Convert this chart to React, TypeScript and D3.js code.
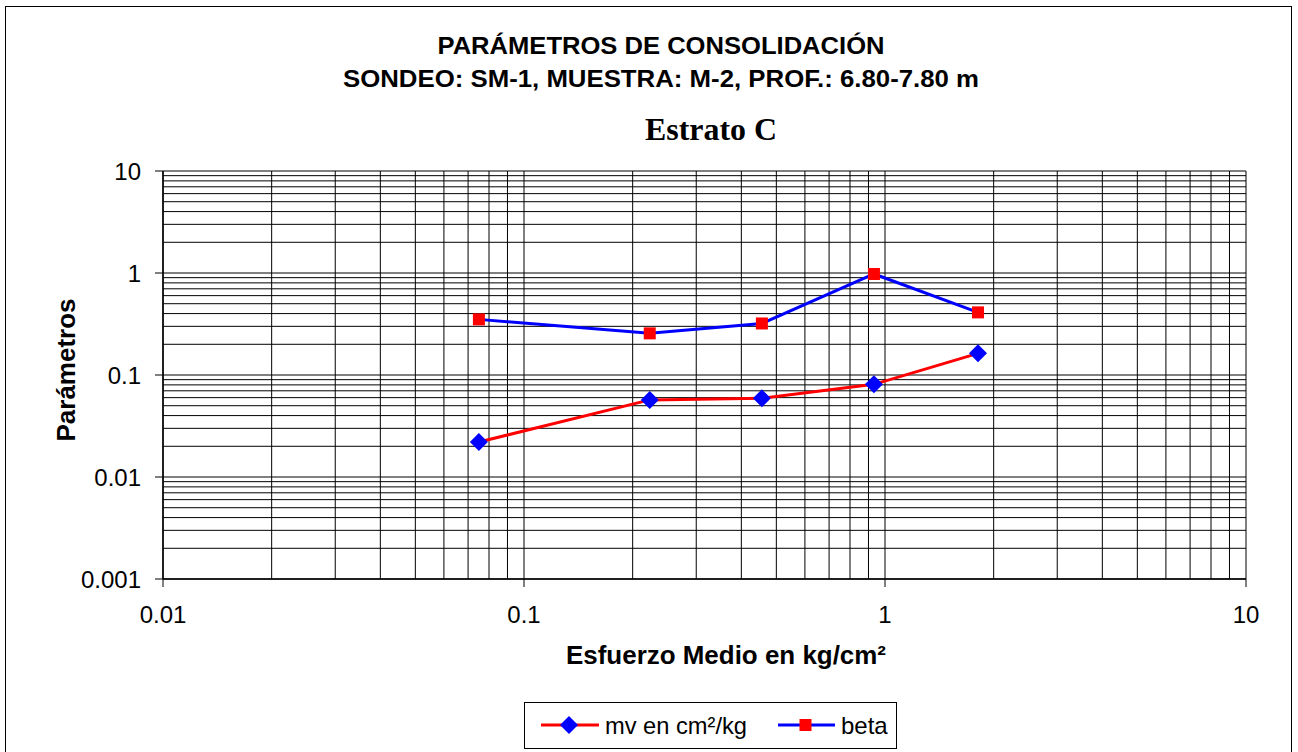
import React from "react";
import * as d3 from "d3";

const esfuerzo = [0.075, 0.223, 0.456, 0.932, 1.81];
const mv = [0.022, 0.057, 0.059, 0.081, 0.163];
const beta = [0.351, 0.256, 0.32, 0.978, 0.411];
const xTicks = [0.01, 0.1, 1, 10];
const yTicks = [0.001, 0.01, 0.1, 1, 10];
const xTickLabels = ["0.01", "0.1", "1", "10"];
const yTickLabels = ["0.001", "0.01", "0.1", "1", "10"];

const W = 1298;
const H = 752;
const L = 163, R = 1246, T = 171, B = 579;

export default function App() {
  const x = d3.scaleLog().domain([0.01, 10]).range([L, R]);
  const y = d3.scaleLog().domain([0.001, 10]).range([B, T]);

  const minorX: number[] = [];
  for (let d = 0.01; d < 10; d *= 10) {
    for (let k = 2; k <= 9; k++) minorX.push(+(d * k).toPrecision(3));
  }
  const minorY: number[] = [];
  for (let d = 0.001; d < 10; d *= 10) {
    for (let k = 2; k <= 9; k++) minorY.push(+(d * k).toPrecision(3));
  }

  const line = d3
    .line<number>()
    .x((_, i) => x(esfuerzo[i]))
    .y((v) => y(v));

  const font = "Arial, 'Liberation Sans', sans-serif";

  return (
    <svg
      width={W}
      height={H}
      style={{ position: "absolute", left: 0, top: 0, background: "#fff" }}
      fontFamily={font}
    >
      <rect x={5.5} y={6.5} width={1286} height={760} fill="#fff" stroke="#000" strokeWidth={1} />
      <text x={661} y={54} textAnchor="middle" fontSize={24} fontWeight="bold" textLength={447} lengthAdjust="spacingAndGlyphs">
        PARÁMETROS DE CONSOLIDACIÓN
      </text>
      <text x={661} y={87} textAnchor="middle" fontSize={24} fontWeight="bold" textLength={636} lengthAdjust="spacingAndGlyphs">
        SONDEO: SM-1, MUESTRA: M-2, PROF.: 6.80-7.80 m
      </text>
      <text x={711} y={140} textAnchor="middle" fontSize={31} fontWeight="bold" fontFamily="'Times New Roman', 'Liberation Serif', serif" textLength={132} lengthAdjust="spacingAndGlyphs">
        Estrato C
      </text>

      {/* grid */}
      <g>
        {minorY.map((v) => (
          <line key={"hy" + v} x1={L} x2={R} y1={y(v)} y2={y(v)} stroke="#000" strokeWidth={1} />
        ))}
        {yTicks.map((v) => (
          <line key={"hyM" + v} x1={L - 8} x2={R} y1={y(v)} y2={y(v)} stroke="#000" strokeWidth={1} />
        ))}
        {minorX.map((v) => (
          <line key={"vx" + v} x1={x(v)} x2={x(v)} y1={T} y2={B} stroke="#000" strokeWidth={1} />
        ))}
        {xTicks.map((v) => (
          <line key={"vxM" + v} x1={x(v)} x2={x(v)} y1={T} y2={B + 8} stroke="#000" strokeWidth={1} />
        ))}
        <line x1={L} x2={L} y1={T} y2={B} stroke="#000" strokeWidth={1.5} />
        <line x1={L} x2={R} y1={B} y2={B} stroke="#000" strokeWidth={1.5} />
      </g>

      {/* tick labels */}
      {yTicks.map((v, i) => (
        <text key={"yl" + v} x={141} y={y(v) + 8.5} textAnchor="end" fontSize={24}>
          {yTickLabels[i]}
        </text>
      ))}
      {xTicks.map((v, i) => (
        <text key={"xl" + v} x={x(v)} y={623} textAnchor="middle" fontSize={24}>
          {xTickLabels[i]}
        </text>
      ))}

      <text x={726} y={664} textAnchor="middle" fontSize={25} fontWeight="bold" textLength={320} lengthAdjust="spacingAndGlyphs">
        Esfuerzo Medio en kg/cm²
      </text>
      <text
        transform={`translate(75, 370) rotate(-90)`}
        textAnchor="middle"
        fontSize={25}
        fontWeight="bold"
        textLength={143}
        lengthAdjust="spacingAndGlyphs"
      >
        Parámetros
      </text>

      {/* series */}
      <path d={line(mv) || ""} fill="none" stroke="#ff0000" strokeWidth={3} />
      <path d={line(beta) || ""} fill="none" stroke="#0000ff" strokeWidth={3} />
      {mv.map((v, i) => {
        const cx = x(esfuerzo[i]);
        const cy = y(v);
        return (
          <path key={"mv" + i} d={`M${cx},${cy - 9}L${cx + 9},${cy}L${cx},${cy + 9}L${cx - 9},${cy}Z`} fill="#0000ff" />
        );
      })}
      {beta.map((v, i) => {
        const cx = x(esfuerzo[i]);
        const cy = y(v);
        return <rect key={"b" + i} x={cx - 6} y={cy - 6} width={12} height={12} fill="#ff0000" />;
      })}

      {/* legend */}
      <rect x={524.5} y={702.5} width={372} height={46} fill="#fff" stroke="#000" strokeWidth={1} />
      <line x1={541} x2={599} y1={725} y2={725} stroke="#ff0000" strokeWidth={3} />
      <path d="M569,716L578,725L569,734L560,725Z" fill="#0000ff" />
      <text x={605} y={733.5} fontSize={24} textLength={142} lengthAdjust="spacingAndGlyphs">mv en cm²/kg</text>
      <line x1={778} x2={835} y1={725} y2={725} stroke="#0000ff" strokeWidth={3} />
      <rect x={799.5} y={719} width={12} height={12} fill="#ff0000" />
      <text x={841} y={733.5} fontSize={24}>beta</text>
    </svg>
  );
}
